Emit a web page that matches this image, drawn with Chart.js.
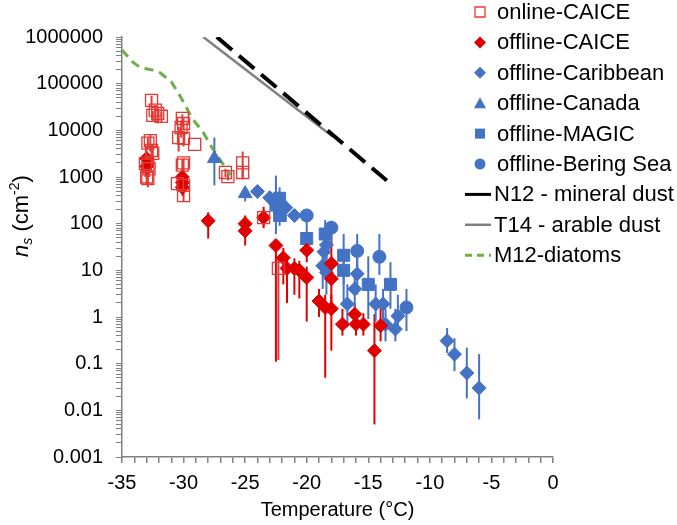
<!DOCTYPE html>
<html>
<head>
<meta charset="utf-8">
<script src="https://cdn.jsdelivr.net/npm/chart.js@4.4.1/dist/chart.umd.min.js"></script>
<style>
  html, body { margin: 0; padding: 0; background: #fff; }
</style>
</head>
<body>
<canvas id="nsChart" width="677" height="525"></canvas>
<script>
// [temperature (°C), ns (cm-2), error low, error high]
const onlineCaice = [
    [-32.6, 44000, 30000, 55000],
    [-32.3, 27000, 15000, 35000],
    [-32.1, 23000, 14000, 30000],
    [-31.8, 20000, 15000, 25000],
    [-32.5, 21000, 16000, 26000],
    [-32.7, 6000, 3500, 8000],
    [-32.9, 5300, 4000, 7000],
    [-32.6, 3700, 2500, 5000],
    [-32.5, 3200, 1800, 5000],
    [-33.1, 1950, 1000, 3000],
    [-32.9, 1800, 1200, 2500],
    [-32.8, 1500, 1000, 2000],
    [-33.0, 1000, 700, 1400],
    [-32.9, 930, 600, 1500],
    [-30.1, 18000, 12000, 22000],
    [-30.0, 14000, 10000, 18000],
    [-30.2, 11500, 7000, 16000],
    [-30.4, 7000, 3500, 12000],
    [-30.0, 6700, 4500, 9000],
    [-29.1, 5000, 5000, 5000],
    [-30.0, 2000, 1200, 2500],
    [-30.1, 1800, 1200, 2400],
    [-30.5, 720, 500, 1000],
    [-30.0, 660, 450, 900],
    [-30.0, 400, 300, 700],
    [-26.6, 1250, 1000, 1500],
    [-26.4, 1020, 850, 1200],
    [-25.2, 2000, 1000, 3500],
    [-25.2, 1250, 900, 1800],
    [-23.5, 135, 90, 200],
    [-22.3, 11, 0.12, 20]
];

const offlineCaice = [
    [-33.0, 2500, 1500, 3500],
    [-33.0, 1700, 1100, 2500],
    [-30.1, 1000, 700, 1400],
    [-30.1, 760, 550, 1000],
    [-30.1, 600, 400, 800],
    [-28.0, 115, 48, 175],
    [-25.0, 100, 60, 150],
    [-25.0, 70, 34, 110],
    [-23.5, 135, 80, 230],
    [-22.5, 34, 0.11, 40],
    [-21.9, 18.5, 5, 30],
    [-21.6, 11, 2, 18],
    [-21.0, 11, 3, 18],
    [-20.6, 10, 2.5, 16],
    [-20.0, 27, 15, 45],
    [-20.0, 7, 0.8, 12],
    [-19.0, 2.2, 1, 4],
    [-18.5, 1.6, 0.05, 3],
    [-18.0, 1.5, 0.19, 3],
    [-18.0, 14, 6, 70],
    [-18.0, 6.6, 2, 12],
    [-17.1, 0.7, 0.4, 1.5],
    [-16.1, 1.15, 0.7, 2],
    [-16.0, 0.7, 0.4, 1.2],
    [-15.4, 0.7, 0.4, 1.2],
    [-14.5, 0.19, 0.005, 1.15],
    [-14.0, 0.65, 0.3, 2]
];

const offlineCaribbean = [
    [-24.0, 490, 350, 650],
    [-23.0, 360, 250, 500],
    [-21.7, 220, 110, 300],
    [-21.0, 150, 110, 200],
    [-18.4, 35, 10, 100],
    [-18.6, 25, 8, 60],
    [-18.7, 12.5, 4, 30],
    [-18.4, 9, 3, 20],
    [-15.9, 8.4, 3, 25],
    [-16.1, 4, 1.5, 10],
    [-16.7, 1.9, 0.6, 5],
    [-14.4, 1.9, 0.8, 5],
    [-13.8, 1.9, 0.8, 4],
    [-13.6, 0.7, 0.3, 1.5],
    [-12.8, 0.55, 0.3, 1.5],
    [-12.6, 1.05, 0.5, 3],
    [-8.6, 0.31, 0.17, 0.58],
    [-8.0, 0.16, 0.069, 0.35],
    [-7.0, 0.063, 0.018, 0.22],
    [-6.0, 0.03, 0.0064, 0.16]
];

const offlineCanada = [
    [-27.5, 2500, 660, 7000],
    [-25.0, 440, 300, 600]
];

const offlineMagic = [
    [-22.2, 350, 200, 600],
    [-22.2, 150, 90, 250],
    [-22.5, 250, 60, 1070],
    [-20.0, 48, 25, 90],
    [-18.5, 60, 30, 120],
    [-17.0, 21, 5, 60],
    [-17.0, 10, 1.9, 25],
    [-15.0, 5, 0.9, 20],
    [-13.2, 5, 1.5, 15]
];

const offlineBering = [
    [-20.0, 150, 90, 200],
    [-18.0, 82, 40, 110],
    [-15.9, 26, 10, 60],
    [-14.1, 19.5, 8, 60],
    [-11.9, 1.6, 0.5, 4]
];

// [temperature (°C), ns (cm-2)]
const n12MineralDust = [[-27.3, 1000000], [-13.5, 840]];
const t14ArableDust = [[-28.4, 1000000], [-17.9, 7400]];
const m12Diatoms = [
    [-35.0, 530000],
    [-34.2, 300000],
    [-33.5, 220000],
    [-32.5, 195000],
    [-31.9, 170000],
    [-31.0, 110000],
    [-30.2, 50000],
    [-29.3, 18000],
    [-28.4, 9000],
    [-27.7, 4300],
    [-26.2, 1100]
];

const RED = '#e00000';
const RED_OPEN = '#e53935';
const BLUE = '#4472c4';
const FONT = 'Liberation Sans, Arial, sans-serif';

function points(rows) {
    return rows.map(r => ({ x: r[0], y: r[1], lo: r[2], hi: r[3] }));
}

function isDecade(v) {
    const l = Math.log10(v);
    return Math.abs(l - Math.round(l)) < 1e-6;
}

const errorBars = {
    id: 'errorBars',
    beforeDatasetsDraw(chart) {
        const { ctx, chartArea, scales: { x, y } } = chart;
        ctx.save();
        ctx.beginPath();
        ctx.rect(chartArea.left, chartArea.top, chartArea.width, chartArea.height);
        ctx.clip();
        chart.data.datasets.forEach(ds => {
            if (!ds.errColor) return;
            ctx.strokeStyle = ds.errColor;
            ctx.lineWidth = 2;
            ds.data.forEach(p => {
                if (p.lo == null || p.lo === p.hi) return;
                const px = x.getPixelForValue(p.x);
                ctx.beginPath();
                ctx.moveTo(px, y.getPixelForValue(p.lo));
                ctx.lineTo(px, y.getPixelForValue(p.hi));
                ctx.stroke();
            });
        });
        ctx.restore();
    }
};

function drawMarker(ctx, style, cx, cy, fill, stroke) {
    ctx.save();
    ctx.beginPath();
    if (style === 'rect') {
        ctx.rect(cx - 5, cy - 5, 10, 10);
    } else if (style === 'rectRot') {
        ctx.moveTo(cx, cy - 6); ctx.lineTo(cx + 6, cy);
        ctx.lineTo(cx, cy + 6); ctx.lineTo(cx - 6, cy);
        ctx.closePath();
    } else if (style === 'triangle') {
        ctx.moveTo(cx, cy - 6); ctx.lineTo(cx + 6, cy + 5);
        ctx.lineTo(cx - 6, cy + 5); ctx.closePath();
    } else if (style === 'circle') {
        ctx.arc(cx, cy, 5.5, 0, Math.PI * 2);
    }
    if (fill) { ctx.fillStyle = fill; ctx.fill(); }
    if (stroke) { ctx.strokeStyle = stroke; ctx.lineWidth = 1.3; ctx.stroke(); }
    ctx.restore();
}

// legend drawn by hand so it can sit over the right edge of the plot like the original
const sideLegend = {
    id: 'sideLegend',
    afterDraw(chart) {
        const ctx = chart.ctx;
        ctx.save();
        ctx.font = '22px ' + FONT;
        ctx.textBaseline = 'middle';
        ctx.fillStyle = '#000';
        chart.data.datasets.forEach((ds, i) => {
            const y = 12 + i * 30.4;
            if (ds.showLine) {
                ctx.save();
                ctx.strokeStyle = ds.borderColor;
                ctx.lineWidth = ds.legendWidth || ds.borderWidth;
                ctx.setLineDash(ds.legendDash || []);
                ctx.beginPath();
                ctx.moveTo(465, y);
                ctx.lineTo(491, y);
                ctx.stroke();
                ctx.restore();
                ctx.fillText(ds.label, 494, y + 1);
            } else {
                const open = ds.pointBackgroundColor === 'rgba(255,255,255,0)';
                drawMarker(ctx, ds.pointStyle, 480, y,
                    open ? null : ds.pointBackgroundColor,
                    open ? ds.pointBorderColor : null);
                ctx.fillText(ds.label, 497, y + 1);
            }
        });
        ctx.restore();
    }
};

const yTitle = {
    id: 'yTitle',
    afterDraw(chart) {
        const ctx = chart.ctx;
        const parts = [
            { t: 'n', f: 'italic 22px ' + FONT, dy: 0 },
            { t: 's', f: 'italic 14px ' + FONT, dy: 6 },
            { t: ' (cm', f: '22px ' + FONT, dy: 0 },
            { t: '-2', f: '14px ' + FONT, dy: -7 },
            { t: ')', f: '22px ' + FONT, dy: 0 }
        ];
        ctx.save();
        let total = 0;
        parts.forEach(p => { ctx.font = p.f; p.w = ctx.measureText(p.t).width; total += p.w; });
        ctx.translate(22, 216);
        ctx.rotate(-Math.PI / 2);
        ctx.fillStyle = '#000';
        ctx.textBaseline = 'middle';
        let xPos = -total / 2;
        parts.forEach(p => {
            ctx.font = p.f;
            ctx.fillText(p.t, xPos, p.dy);
            xPos += p.w;
        });
        ctx.restore();
    }
};

const data = {
    datasets: [
        {
            label: 'online-CAICE',
            data: points(onlineCaice),
            pointStyle: 'rect',
            pointRadius: 8.5,
            pointBackgroundColor: 'rgba(255,255,255,0)',
            pointBorderColor: RED_OPEN,
            pointBorderWidth: 1.3,
            errColor: RED_OPEN
        },
        {
            label: 'offline-CAICE',
            data: points(offlineCaice),
            pointStyle: 'rectRot',
            pointRadius: 7,
            pointBackgroundColor: RED,
            pointBorderColor: RED,
            pointBorderWidth: 1,
            errColor: RED
        },
        {
            label: 'offline-Caribbean',
            data: points(offlineCaribbean),
            pointStyle: 'rectRot',
            pointRadius: 7,
            pointBackgroundColor: BLUE,
            pointBorderColor: BLUE,
            pointBorderWidth: 1,
            errColor: BLUE
        },
        {
            label: 'offline-Canada',
            data: points(offlineCanada),
            pointStyle: 'triangle',
            pointRadius: 8,
            pointBackgroundColor: BLUE,
            pointBorderColor: BLUE,
            pointBorderWidth: 1,
            errColor: BLUE
        },
        {
            label: 'offline-MAGIC',
            data: points(offlineMagic),
            pointStyle: 'rect',
            pointRadius: 8.5,
            pointBackgroundColor: BLUE,
            pointBorderColor: BLUE,
            pointBorderWidth: 1,
            errColor: BLUE
        },
        {
            label: 'offline-Bering Sea',
            data: points(offlineBering),
            pointStyle: 'circle',
            pointRadius: 6.5,
            pointBackgroundColor: BLUE,
            pointBorderColor: BLUE,
            pointBorderWidth: 1,
            errColor: BLUE
        },
        {
            label: 'N12 - mineral dust',
            data: points(n12MineralDust),
            showLine: true,
            pointRadius: 0,
            borderColor: '#000',
            borderWidth: 4,
            borderDash: [20, 9],
            legendWidth: 3
        },
        {
            label: 'T14 - arable dust',
            data: points(t14ArableDust),
            showLine: true,
            pointRadius: 0,
            borderColor: '#808080',
            borderWidth: 2.5
        },
        {
            label: 'M12-diatoms',
            data: points(m12Diatoms),
            showLine: true,
            pointRadius: 0,
            borderColor: '#70ad47',
            borderWidth: 3,
            borderDash: [9, 6],
            legendDash: [7, 5]
        }
    ]
};

const config = {
    type: 'scatter',
    data: data,
    options: {
        responsive: false,
        animation: false,
        layout: {
            padding: { top: 37, right: 124, left: 0, bottom: 0 }
        },
        plugins: {
            legend: { display: false },
            tooltip: { enabled: false }
        },
        scales: {
            x: {
                type: 'linear',
                min: -35,
                max: 0,
                afterFit: s => { s.height = 68; },
                ticks: {
                    stepSize: 1,
                    autoSkip: false,
                    maxRotation: 0,
                    padding: 8,
                    color: '#000',
                    font: { family: FONT, size: 20 },
                    callback: v => (v % 5 === 0 ? v : '')
                },
                grid: {
                    drawOnChartArea: false,
                    tickLength: 6,
                    color: '#808080',
                    lineWidth: 1.5
                },
                border: { color: '#808080', width: 1.5 },
                title: {
                    display: true,
                    text: 'Temperature (°C)',
                    color: '#000',
                    font: { family: FONT, size: 20 },
                    padding: { top: 0, bottom: 3 }
                }
            },
            y: {
                type: 'logarithmic',
                min: 0.001,
                max: 1000000,
                afterFit: s => { s.width = 122; },
                afterBuildTicks: s => {
                    // keep 1..9 x 10^n only
                    s.ticks = s.ticks.filter(t => {
                        const m = t.value / Math.pow(10, Math.floor(Math.log10(t.value) + 1e-9));
                        return Math.abs(m - Math.round(m)) < 1e-6;
                    });
                },
                ticks: {
                    autoSkip: false,
                    padding: 13,
                    color: '#000',
                    font: { family: FONT, size: 20 },
                    callback: v => (isDecade(v) ? String(Number(v.toPrecision(1))) : '')
                },
                grid: {
                    drawOnChartArea: false,
                    tickLength: 6,
                    color: '#808080',
                    lineWidth: 1
                },
                border: { color: '#808080', width: 1.5 }
            }
        }
    },
    plugins: [errorBars, sideLegend, yTitle]
};

new Chart(
    document.getElementById('nsChart'),
    config
);
</script>
</body>
</html>
